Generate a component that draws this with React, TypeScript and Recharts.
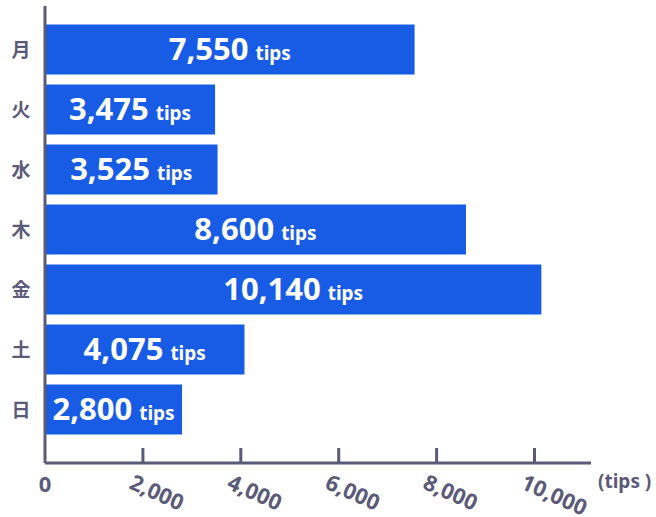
import React from "react";
import { BarChart, Bar, XAxis, YAxis, LabelList } from "recharts";

const days = ["月", "火", "水", "木", "金", "土", "日"];
const tips = [7550, 3475, 3525, 8600, 10140, 4075, 2800];
const xTicks = [0, 2000, 4000, 6000, 8000, 10000];
const unitLabel = "(tips )";

const data = days.map((d, i) => ({ day: d, tips: tips[i] }));

const AXIS = "#5b5a79";
const BAR = "#185ce6";
const FONT = "'Noto Sans', 'Noto Sans CJK JP', sans-serif";

const fmt = (v: number) => v.toLocaleString("en-US");

const XTick = (props: any) => {
  const { x, y, payload } = props;
  const v = payload.value as number;
  return (
    <g>
      {v !== 0 && <line x1={x} y1={y} x2={x} y2={y - 15} stroke={AXIS} strokeWidth={3} />}
      {v === 0 ? (
        <text x={x} y={y + 29} textAnchor="middle" fill={AXIS} fontSize={22} fontWeight={700} fontFamily={FONT}>
          {fmt(v)}
        </text>
      ) : (
        <text
          transform={`translate(${x - 15},${y + 25}) rotate(24)`}
          textAnchor="start"
          fill={AXIS}
          fontSize={22}
          fontWeight={700}
          fontFamily={FONT}
        >
          {fmt(v)}
        </text>
      )}
    </g>
  );
};

const YTick = (props: any) => {
  const { y, payload } = props;
  return (
    <text x={21} y={y + 7} textAnchor="middle" fill={AXIS} fontSize={19} fontWeight={700} fontFamily="'Noto Sans CJK JP', sans-serif">
      {payload.value}
    </text>
  );
};

const BarLabel = (props: any) => {
  const { x, y, width, height, value } = props;
  const cx = Number(x) + Number(width) / 2;
  const by = Number(y) + Number(height) / 2 + 10;
  return (
    <text x={cx} y={by} textAnchor="middle" fill="#ffffff" fontWeight={700} fontFamily={FONT}>
      <tspan fontSize={31}>{fmt(Number(value))}</tspan>
      <tspan fontSize={19} dx={7}>tips</tspan>
    </text>
  );
};

const UnitLabel = (props: any) => {
  const vb = props.viewBox || {};
  const x = Number(vb.x) + Number(vb.width);
  const y = Number(vb.y);
  return (
    <text x={x + 7} y={y + 25} textAnchor="start" fill={AXIS} fontSize={19} fontWeight={700} fontFamily={FONT}>
      {unitLabel}
    </text>
  );
};

export default function App() {
  return (
    <div style={{ position: "absolute", left: 0, top: 0, background: "#fff" }}>
      <BarChart
        width={656}
        height={517}
        data={data}
        layout="vertical"
        margin={{ top: 6, right: 65, bottom: 0, left: 0 }}
        barSize={50}
      >
        <XAxis
          type="number"
          dataKey="tips"
          domain={[0, 11154]}
          ticks={xTicks}
          interval={0}
          allowDataOverflow
          axisLine={{ stroke: AXIS, strokeWidth: 3 }}
          tickLine={false}
          tickSize={0}
          tickMargin={0}
          height={54}
          tick={<XTick />}
          label={<UnitLabel />}
        />
        <YAxis
          type="category"
          dataKey="day"
          width={45}
          axisLine={{ stroke: AXIS, strokeWidth: 3 }}
          tickLine={false}
          padding={{ top: 13.5, bottom: 23.5 }}
          tick={<YTick />}
          interval={0}
        />
        <Bar dataKey="tips" fill={BAR} isAnimationActive={false}>
          <LabelList dataKey="tips" content={<BarLabel />} />
        </Bar>
      </BarChart>
    </div>
  );
}
